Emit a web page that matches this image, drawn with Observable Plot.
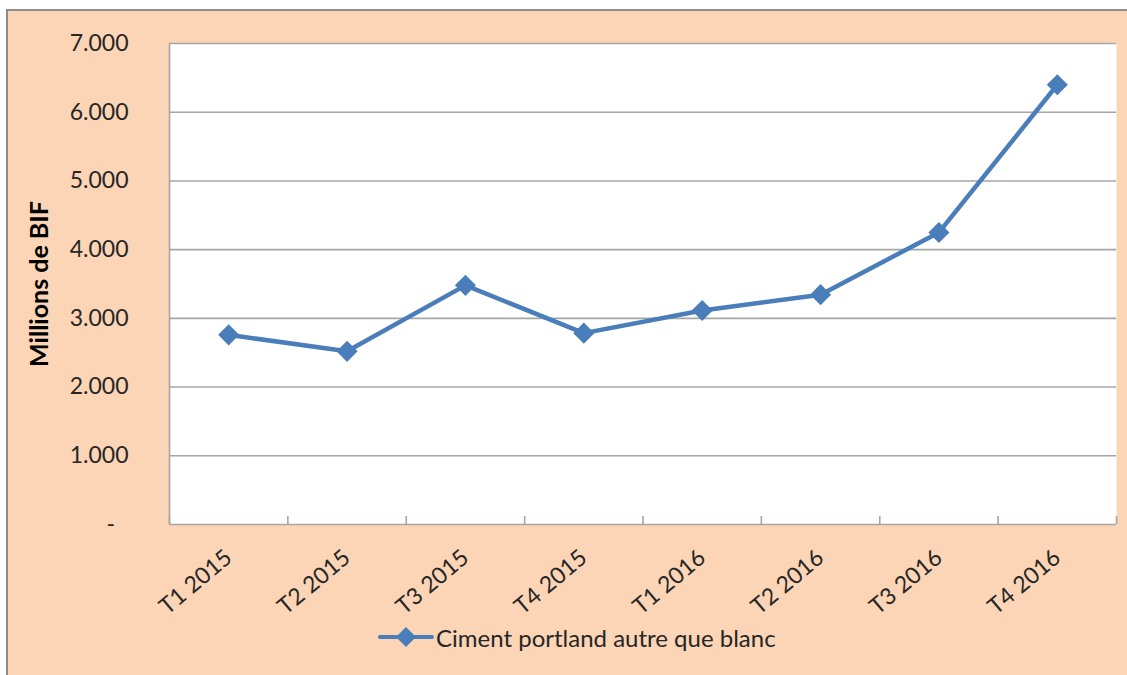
<!DOCTYPE html>
<html><head><meta charset="utf-8">
<script src="https://cdn.jsdelivr.net/npm/d3@7"></script>
<script src="https://cdn.jsdelivr.net/npm/@observablehq/plot@0.6"></script>
<style>
html,body{margin:0;padding:0;background:#fff;overflow:hidden;width:1127px;height:675px;position:relative}
#frame{position:absolute;left:6px;top:9px;width:1130px;height:680px;background:#FBD5B5;border:2px solid #8c8c8c;box-sizing:border-box}
#chart{position:absolute;left:0;top:0}
#legend{position:absolute;left:378px;top:624px;height:26px;display:flex;align-items:center;font-family:Lato,sans-serif;font-size:24px;color:#262626;white-space:nowrap}
#legend svg{margin-right:2px}
</style></head>
<body>
<div id="frame"></div>
<div id="chart"></div>
<div id="legend"></div>
<script>
const categories = ["T1 2015","T2 2015","T3 2015","T4 2015","T1 2016","T2 2016","T3 2016","T4 2016"];
const values = [2760, 2520, 3480, 2785, 3115, 3345, 4250, 6400];
const yTicks = [0,1000,2000,3000,4000,5000,6000,7000];
const seriesName = "Ciment portland autre que blanc";
const yTitle = "Millions de BIF";
const lineColor = "#4A7EBB";

const data = categories.map((c,i)=>({i, c, v: values[i]}));
const idx = categories.map((_,i)=>i);
const bounds = d3.range(categories.length+1).map(k=>k-0.5);
const fr = d3.formatLocale({decimal:",", thousands:".", grouping:[3], currency:["",""]}).format(",.0f");
const fmtY = v => v===0 ? "-\u2007" : fr(v);

const W = 1127, H = 622, mT = 43, mB = 98, mL = 169, mR = 11;
const plotH = H - mT - mB;

const chart = Plot.plot({
  width: W, height: H, marginLeft: mL, marginRight: mR, marginTop: mT, marginBottom: mB,
  style: {background: "transparent", fontFamily: "Lato, sans-serif", fontSize: "23px", color: "#262626"},
  x: {type: "linear", domain: [bounds[0], bounds[bounds.length-1]], axis: null},
  y: {domain: [yTicks[0], yTicks[yTicks.length-1]], axis: null},
  marks: [
    Plot.frame({fill: "white", stroke: null}),
    Plot.ruleY(yTicks, {stroke: "#a6a6a6", strokeWidth: 1.6}),
    Plot.ruleX([bounds[0]], {stroke: "#a6a6a6", strokeWidth: 1.6}),
    Plot.ruleX(bounds, {stroke: "#a6a6a6", strokeWidth: 1.6, insetTop: plotH - 8}),
    Plot.axisX(idx, {tickSize: 0, tickPadding: 30, tickRotate: -40, tickFormat: i => categories[i], fill: "#262626", label: null}),
    Plot.axisY(yTicks, {tickSize: 0, tickPadding: 41, tickFormat: fmtY, fill: "#262626", label: null}),
    Plot.text([yTitle], {frameAnchor: "left", textAnchor: "middle", rotate: -90, dx: -130, fontWeight: "bold", fontSize: 25, fill: "#000"}),
    Plot.line(data, {x: "i", y: "v", stroke: lineColor, strokeWidth: 4.5}),
    Plot.dot(data, {x: "i", y: "v", symbol: "diamond2", r: 9.5, fill: lineColor, stroke: null})
  ]
});
document.getElementById("chart").appendChild(chart);

const lg = document.getElementById("legend");
lg.innerHTML = `<svg width="56" height="26"><line x1="2" y1="13" x2="54" y2="13" stroke="${lineColor}" stroke-width="4" stroke-linecap="round"/><path d="M28,3 L38,13 L28,23 L18,13Z" fill="${lineColor}"/></svg><span>${seriesName}</span>`;
</script>
</body></html>
